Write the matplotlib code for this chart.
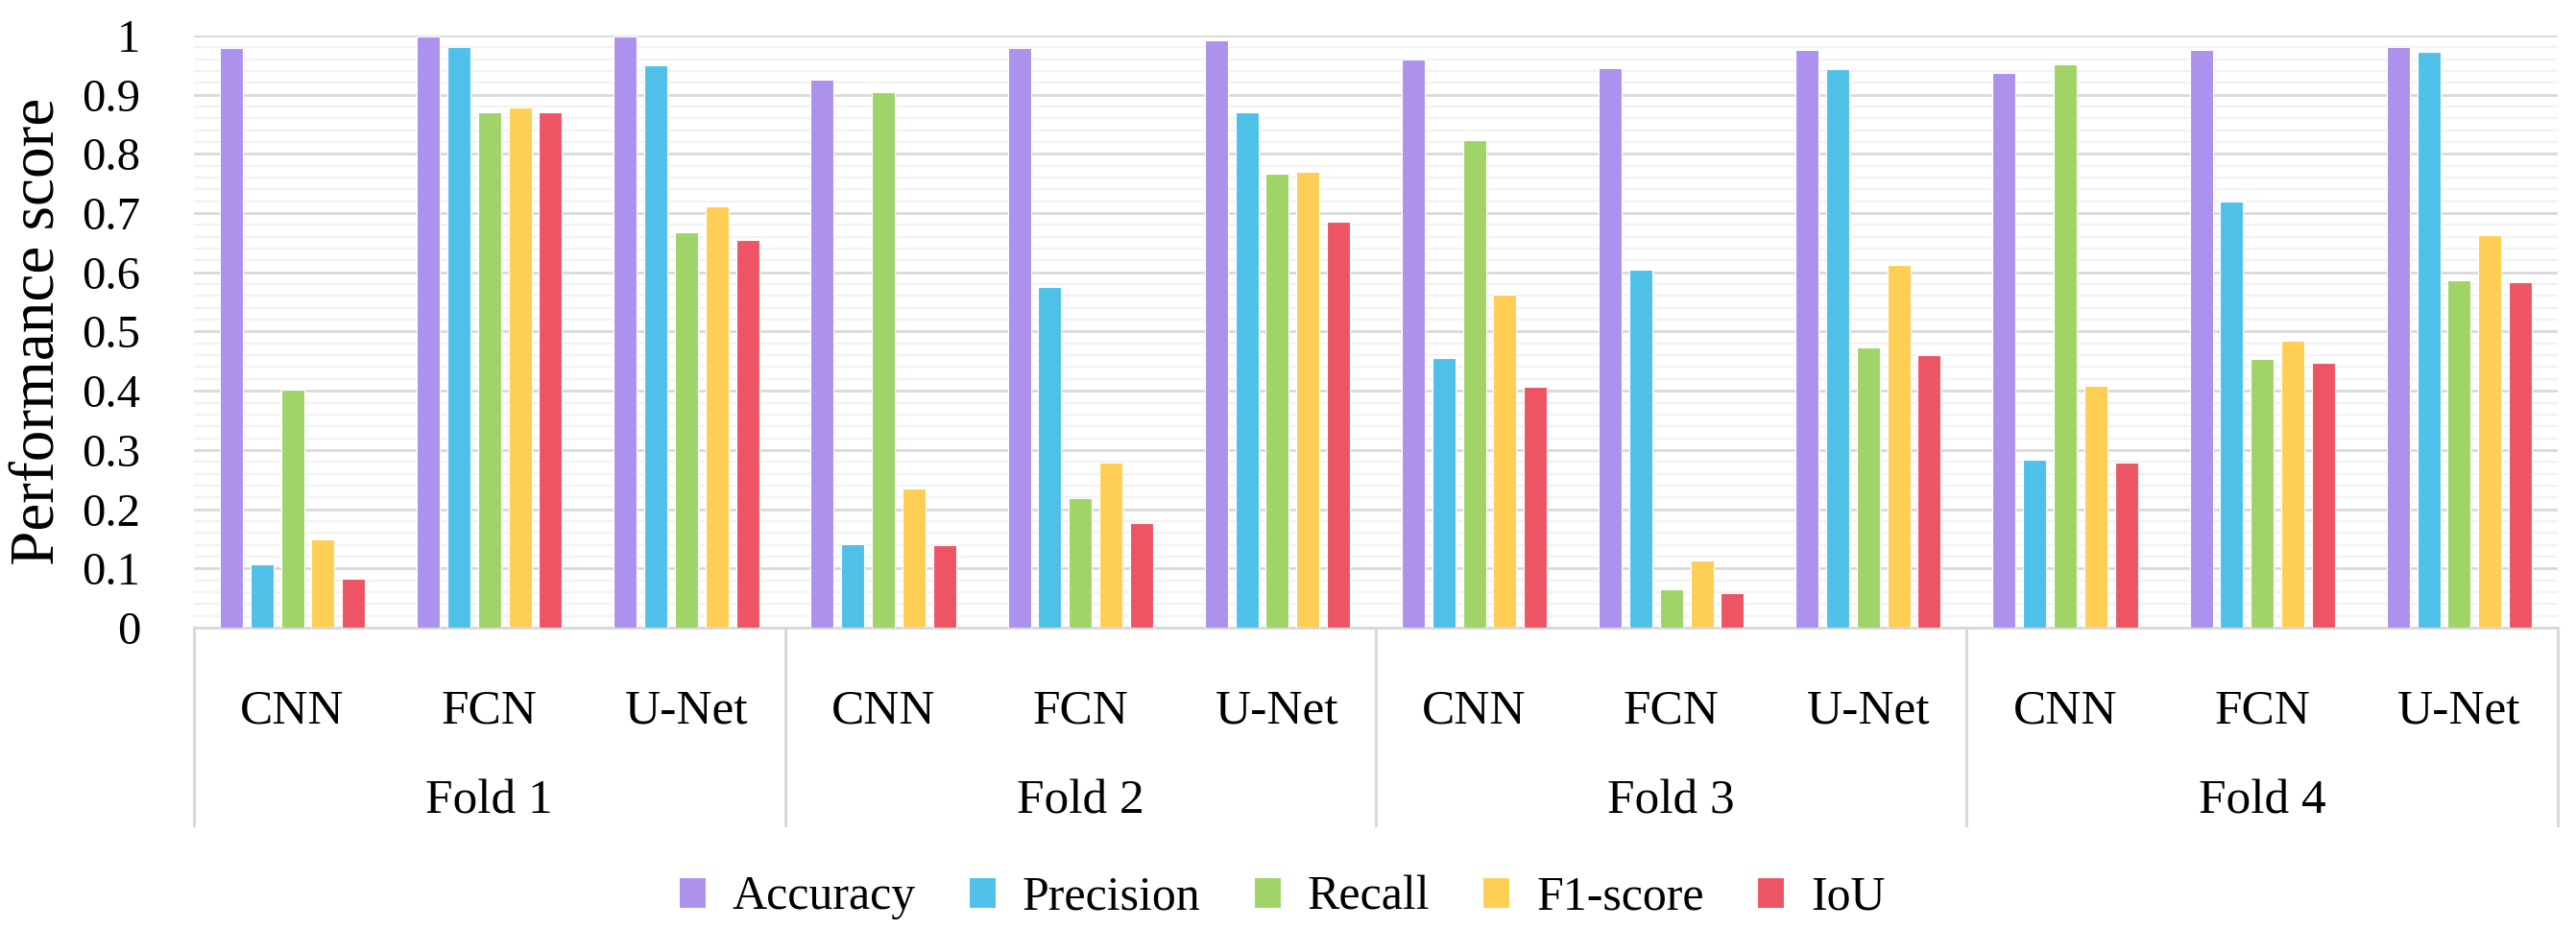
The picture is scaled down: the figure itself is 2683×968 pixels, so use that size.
import matplotlib
matplotlib.use("Agg")
import matplotlib.pyplot as plt
import matplotlib.transforms as mtransforms
from matplotlib.patches import Patch
import numpy as np

plt.rcParams['font.family'] = ['Liberation Serif', 'DejaVu Serif']

# Data
folds = ['Fold 1', 'Fold 2', 'Fold 3', 'Fold 4']
models = ['CNN', 'FCN', 'U-Net']
metrics = ['Accuracy', 'Precision', 'Recall', 'F1-score', 'IoU']

accuracy = [0.979, 0.999, 0.998, 0.926, 0.979, 0.992, 0.960, 0.945, 0.975, 0.937, 0.975, 0.981]
precision = [0.107, 0.980, 0.950, 0.141, 0.576, 0.870, 0.456, 0.605, 0.944, 0.283, 0.719, 0.973]
recall = [0.402, 0.870, 0.667, 0.904, 0.219, 0.766, 0.824, 0.064, 0.473, 0.951, 0.453, 0.587]
f1_score = [0.149, 0.878, 0.711, 0.235, 0.279, 0.770, 0.562, 0.113, 0.613, 0.408, 0.484, 0.663]
iou = [0.083, 0.870, 0.655, 0.140, 0.176, 0.686, 0.406, 0.059, 0.460, 0.279, 0.448, 0.583]

series = [accuracy, precision, recall, f1_score, iou]
colors = ['#AC92EC', '#4FC1E9', '#A0D468', '#FFCE54', '#ED5565']

fig = plt.figure(figsize=(26.83, 9.68), dpi=100)
ax = fig.add_axes([0.0753, 0.3244, 0.9176, 0.6374])

n_cat = len(folds) * len(models)
x = np.arange(n_cat)
step = 0.155
width = 0.117
for i, (vals, c) in enumerate(zip(series, colors)):
    ax.bar(x + (i - 2) * step, vals, width=width, color=c,
           edgecolor='white', linewidth=0.8, zorder=3)

ax.set_xlim(-0.5, n_cat - 0.5)
ax.set_ylim(0, 1)
ax.set_yticks(np.arange(0, 1.01, 0.1))
ax.set_yticklabels(['0', '0.1', '0.2', '0.3', '0.4', '0.5', '0.6', '0.7', '0.8', '0.9', '1'])
ax.set_yticks(np.arange(0, 1.001, 0.02), minor=True)
ax.grid(axis='y', which='major', color='#D9D9D9', linewidth=2.0, zorder=0)
ax.grid(axis='y', which='minor', color='#F2F2F2', linewidth=1.6, zorder=0)
ax.tick_params(axis='y', which='both', length=0, labelsize=35, pad=40)
ax.set_ylabel('Performance score', fontsize=47, va='center')
ax.yaxis.set_label_coords(-0.0655, 0.5)

for s in ['top', 'right', 'left']:
    ax.spines[s].set_visible(False)
ax.spines['bottom'].set_color('#D9D9D9')
ax.spines['bottom'].set_linewidth(2.2)

# model labels
ax.set_xticks(x)
ax.set_xticklabels(models * len(folds))
ax.tick_params(axis='x', length=0, labelsize=37, pad=46)

trans = mtransforms.blended_transform_factory(ax.transData, ax.transAxes)
# fold labels
for k, fold in enumerate(folds):
    xc = k * len(models) + (len(models) - 1) / 2
    ax.text(xc, -0.293, fold, transform=trans, ha='center', va='center', fontsize=37)
# separators
for k in range(len(folds) + 1):
    xs = k * len(models) - 0.5
    ax.plot([xs, xs], [0, -0.334], transform=trans, color='#D9D9D9',
            linewidth=2.2, clip_on=False)

handles = [Patch(facecolor=c, edgecolor='white', linewidth=0.8, label=m)
           for m, c in zip(metrics, colors)]
fig.legend(handles=handles, loc='center', bbox_to_anchor=(0.4976, 0.034), ncol=5,
           frameon=False, fontsize=36, handlelength=0.56, handleheight=0.6,
           handletextpad=0.56, columnspacing=1.1)

fig.savefig('out.png', dpi=100)
